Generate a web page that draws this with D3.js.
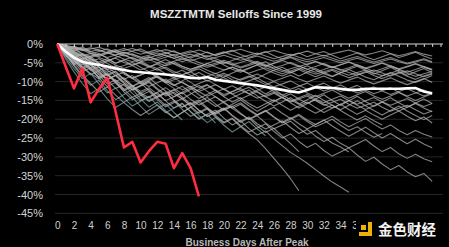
<!DOCTYPE html>
<html>
<head>
<meta charset="utf-8">
<script src="https://cdn.jsdelivr.net/npm/d3@7"></script>
<style>
  body { margin: 0; background: #000; }
  svg { display: block; }
</style>
</head>
<body>
<svg id="chart" width="449" height="247"></svg>
<script>
// % decline from peak, one value per business day (day 0 = peak)
const currentSelloff = [0, -6, -11.8, -6.5, -15.5, -12, -9, -18, -27.5, -26, -31.5, -28.5, -26, -26.5, -33, -29, -33, -40.5];

const averageSelloff = [0, -2, -3.6, -4.7, -5.2, -5.5, -6, -6.5, -6.9, -7.3, -7.5, -7.7, -7.9, -8.1, -8.3, -8.6,
  -9, -9.1, -8.8, -9.5, -9.8, -10.1, -10.4, -10.7, -11, -11.4, -11.8, -12.2, -12.6, -12.9, -12.2, -11.5,
  -11.6, -11.7, -11.9, -12.2, -12.2, -11.9, -11.9, -11.9, -11.9, -11.9, -11.8, -11.7, -12.6, -13.1];

const pastSelloffs = [
  [0,-1,-0.6,-1.4,-2,-1.5,-2.3,-2.9,-2.2,-2.8,-3.5,-3,-2.4,-3.1,-3.8,-3.2,-2.7,-3.4,-4.1,-3.6,-3,-3.7,-4.3,-3.8,-3.2,-3.9,-4.6,-4,-3.4,-4.1,-4.7,-4.2,-3.6,-4.3,-5,-4.4,-3.8,-4.5,-5.2,-4.6,-4,-4.7,-5.3,-4.8,-4.2,-4.9],
  [0,-0.4,-1.2,-1.8,-1.3,-0.9,-1.6,-2.2,-1.7,-1.2,-1.9,-2.5,-2,-1.5,-2.1,-2.7,-2.2,-1.6,-2.3,-2.9,-2.4,-1.9,-1.4,-2.1,-2.7,-2.2,-1.7,-2.4,-3,-2.5,-1.9,-2.6,-3.2,-2.6,-2.1,-1.6,-2.3,-2.9,-2.4,-1.8,-2.5,-3.1,-2.6,-2,-2.7,-3.2],
  [0,-1.5,-2.4,-3.2,-2.5,-3.6,-4.4,-3.8,-4.9,-5.6,-4.8,-4.1,-5,-5.8,-5.1,-6,-6.7,-6,-5.2,-6.1,-6.9,-6.2,-7,-7.8,-7,-6.3,-7.1,-7.9,-7.2,-6.4,-7.3,-8,-7.4,-6.7,-7.5,-8.3,-7.6,-6.9,-7.7,-8.4,-7.8,-7,-7.8,-8.6,-7.9,-7.3],
  [0,-0.8,-2,-2.9,-3.6,-3,-2.3,-3.1,-4,-4.7,-4.1,-3.5,-4.3,-5.2,-4.6,-3.9,-4.7,-5.5,-6.2,-5.5,-4.8,-5.6,-6.4,-5.7,-5,-5.8,-6.6,-7.3,-6.6,-5.9,-6.7,-7.5,-6.8,-6,-6.8,-7.6,-8.3,-7.6,-6.9,-7.7,-8.5,-7.8,-7.1,-7.9,-8.7,-8],
  [0,-2,-3.4,-2.6,-4,-5.2,-4.4,-5.6,-6.5,-5.7,-4.9,-6,-7,-6.2,-7.3,-8.2,-7.4,-6.6,-7.7,-8.6,-7.8,-8.8,-9.6,-8.8,-8,-9,-9.9,-9.1,-8.3,-9.3,-10.1,-9.3,-8.5,-9.5,-10.4,-9.6,-8.8,-9.8,-10.6,-9.8,-9,-10,-10.8,-10,-9.2,-10.2],
  [0,-0.6,-1.5,-2.5,-3.3,-2.7,-3.6,-2.9,-2.2,-3,-3.9,-3.3,-4.2,-3.5,-2.8,-3.6,-4.5,-3.8,-3.1,-3.9,-4.8,-5.5,-4.9,-4.2,-5,-5.8,-5.1,-4.4,-5.2,-6,-5.3,-4.6,-5.4,-6.2,-5.5,-4.8,-5.6,-6.4,-5.7,-5,-5.8,-6.6,-5.9,-5.2,-6,-6.7],
  [0,-1.2,-0.7,-1.6,-2.6,-2,-1.3,-2.2,-3.2,-2.6,-3.5,-4.3,-3.7,-2.9,-3.8,-4.7,-4,-4.9,-5.8,-5.1,-4.3,-5.2,-6.1,-5.4,-4.6,-5.5,-6.4,-5.7,-4.9,-5.8,-6.7,-6,-5.2,-6.1,-7,-6.3,-5.5,-6.4,-7.3,-6.6,-5.8,-6.7,-7.5,-6.8,-6,-6.9],
  [0,-2.5,-4,-5.6,-4.5,-6.2,-7.5,-6.6,-8,-9.2,-8.3,-7.4,-8.7,-9.9,-9,-10.3,-11.4,-10.5,-9.6,-10.8,-12,-11.1,-12.3,-13.2,-12.3,-11.4,-12.6,-13.6,-12.7,-11.8,-13,-14,-13.1,-12.2,-13.4,-14.4,-13.5,-12.6,-13.8,-14.7,-13.8,-12.9,-14,-15,-14.1,-13.2],
  [0,-1.8,-3.5,-5,-6.3,-5.4,-7,-8.4,-7.5,-9,-10.2,-9.3,-8.4,-9.8,-11,-10.1,-11.5,-12.6,-11.7,-10.8,-12.1,-13.3,-12.4,-11.5,-12.8,-14,-13.1,-14.3,-15.2,-14.3,-13.4,-14.6,-15.6,-14.7,-13.8,-15,-16,-15.1,-14.2,-15.4,-16.3,-15.4,-14.5,-15.7,-16.6,-15.8],
  [0,-3,-4.8,-3.7,-5.5,-7,-6,-7.8,-9.4,-8.4,-10,-11.3,-10.3,-9.3,-10.8,-12.2,-11.2,-12.7,-13.9,-12.9,-11.9,-13.3,-14.6,-13.6,-12.6,-14,-15.2,-14.2,-13.2,-14.6,-15.8,-14.8,-16,-17,-16,-15,-16.3,-17.4,-16.4,-15.4,-16.7,-17.8,-16.8,-15.8,-17,-18],
  [0,-1,-2.6,-4,-3.2,-2.5,-3.8,-5.1,-4.3,-5.7,-6.9,-6.1,-5.3,-6.6,-7.8,-7,-8.3,-9.4,-8.6,-7.8,-9,-10.1,-9.3,-8.5,-9.7,-10.8,-10,-11.1,-12,-11.2,-10.4,-11.5,-12.5,-11.7,-10.9,-12,-13,-12.2,-11.4,-12.5,-13.4,-12.6,-11.8,-12.9,-13.8,-13],
  [0,-2.2,-4.5,-6.5,-5.4,-7.6,-9.5,-8.4,-10.4,-12,-11,-9.9,-11.8,-13.4,-12.3,-11.2,-13,-14.5,-13.4,-12.3,-14,-15.4,-14.3,-15.8,-17,-15.9,-14.8,-16.3,-17.6,-16.5,-15.4,-16.9,-18.2,-17.1,-16,-17.4,-18.7,-17.6,-18.9,-20,-18.9,-17.8,-19.2,-20.4,-19.4,-21],
  [0,-1.5,-3.2,-5.2,-7,-6,-8.2,-10,-9,-11,-12.6,-11.6,-13.4,-15,-14,-12.9,-14.7,-16.2,-15.1,-14,-15.7,-17.1,-16,-17.6,-19,-17.9,-16.8,-18.4,-19.8,-18.7,-20.2,-21.4,-20.3,-19.2,-20.7,-22,-20.9,-19.8,-21.3,-22.6,-21.5,-23,-24.1,-23,-24,-24.7],
  [0,-3,-5.5,-4.4,-6.8,-9,-8,-10.4,-12.4,-11.3,-13.5,-15.3,-14.2,-13,-15,-16.8,-15.7,-17.6,-19.2,-18.1,-17,-18.9,-20.5,-19.4,-21.2,-22.6,-21.5,-20.4,-22.2,-23.8,-22.7,-24.5,-25.9,-24.8,-26.4,-27.6,-26.5,-25.4,-27.1,-28.6,-27.5,-29.2,-30.4,-29.3,-30.5,-31.3],
  [0,-2,-4.4,-6.8,-5.7,-8.3,-10.6,-9.5,-12,-14.2,-13.1,-12,-14.3,-16.3,-15.2,-17.4,-19.2,-18.1,-17,-19,-20.8,-19.7,-21.7,-23.4,-22.3,-21.2,-23.2,-25,-23.9,-25.9,-27.5,-26.4,-28.3,-29.8,-28.7,-27.6,-29.5,-31.2,-30.1,-31.9,-33.4,-32.3,-34,-35.3,-34.4,-36.5],
  [0,-2.4,-5,-7.4,-6.3,-9,-11.3,-10.2,-12.7,-14.8,-13.7,-12.6,-14.8,-16.7,-15.6,-14.5,-16.6,-18.4,-17.3,-19.4,-21,-19.9,-22,-23.8,-25.5,-27.8,-30.4,-33,-35.8,-39],
  [0,-1.6,-3.8,-6,-8.2,-7.1,-9.6,-11.8,-10.7,-13.1,-15.1,-14,-12.9,-15.1,-17,-15.9,-18,-19.8,-18.7,-17.6,-19.7,-21.5,-20.4,-22.5,-24.2,-23.1,-25.2,-27,-28.8,-30.2,-31.7,-33.4,-35.1,-36.7,-38,-39.4],
  [0,-2.8,-5.2,-4.1,-6.6,-8.8,-7.7,-10.1,-12.1,-11,-13.2,-15,-13.9,-12.8,-14.9,-16.7,-15.6,-17.6,-19.3,-18.2,-17.1,-19.1,-20.8,-19.7,-21.8,-23.5,-22.4,-24.5,-26.5,-28.6],
  [0,-1.2,-3,-5,-4,-6.2,-8.2,-7.2,-9.4,-11.3,-10.3,-12.4,-14.1,-13.1,-12.1,-14.1,-15.9,-14.9,-16.9,-18.5,-17.5,-16.5,-18.4,-20.1,-19.1,-21,-22.5,-21.5,-20.5,-22.4,-24,-23,-24.8,-26.3,-27.4,-28.7],
  [0,-3.5,-6.5,-9.2,-7.8,-10.6,-13,-11.7,-14.3,-16.5,-15.2,-13.9,-16.3,-18.3,-17,-15.7,-18,-20,-18.7,-21],
  [0,-2.6,-5.8,-8.6,-11,-9.6,-12.4,-14.8,-13.4,-12,-14.6,-16.8,-15.4,-17.7,-19.6,-18.2,-16.8,-19,-20.9,-19.5,-21.6,-23.4,-22,-20.6,-22.6,-24.4],
  [0,-4,-7.4,-10.5,-13.2,-11.8,-14.6,-16.9,-15.5,-14.1,-16.6,-18.7,-17.3,-15.9,-18.2,-20.2],
  [0,-1.8,-4,-6.2,-5.2,-7.4,-9.4,-8.4,-10.4,-12.2,-11.2,-10.2,-12.1,-13.8,-12.8,-14.6,-16.2,-15.2,-14.2,-16,-17.6,-16.6,-15.6,-17.3,-18.8,-17.8,-19.5,-21,-20,-19,-20.6,-22,-21,-20,-21.6,-23,-22,-23.5,-24.8,-23.8],
  [0,-1.4,-2.9,-4.5,-3.7,-5.3,-6.8,-6,-7.6,-9,-8.2,-7.4,-8.9,-10.3,-9.5,-8.7,-10.2,-11.6,-10.8,-12.2,-13.4,-12.6,-11.8,-13.2,-14.4,-13.6,-12.8,-14.2,-15.4,-14.6,-13.8,-15.1,-16.3,-15.5,-14.7,-16,-17.1,-16.3,-15.5,-16.8,-17.9,-17.1,-16.3,-17.5,-18.6,-17.8],
  [0,-0.9,-2,-3.4,-4.6,-3.9,-5.2,-6.4,-5.7,-4.9,-6.2,-7.4,-6.6,-7.9,-9,-8.2,-7.4,-8.7,-9.8,-9,-8.2,-9.5,-10.6,-9.8,-9,-10.3,-11.4,-10.6,-9.8,-11,-12,-11.2,-10.4,-11.6,-12.6,-11.8,-11,-12.2,-13.2,-12.4,-11.6,-12.8,-13.8,-13,-12.2,-13.4],
  [0,-0.3,-0.9,-1.5,-1,-1.7,-2.4,-1.8,-1.2,-2,-2.7,-2.1,-1.5,-2.3,-3,-2.4,-1.8,-2.6,-3.3,-2.7,-2.1,-2.9,-3.6,-3,-2.4,-3.2,-3.9,-3.3,-2.7,-3.5,-4.2,-3.6,-3,-3.8,-4.5,-3.9,-3.3,-4.1,-4.8,-4.2,-3.6,-4.4,-5.1,-4.5,-3.9,-4.7],
  [0,-0.7,-1.8,-1.1,-2.4,-3.3,-2.5,-1.9,-3,-3.8,-4.5,-3.7,-2.9,-2.2,-3.2,-4.1,-3.3,-2.6,-3.7,-4.6,-5.2,-4.4,-3.6,-4.5,-5.4,-6,-5.1,-4.3,-3.6,-4.6,-5.5,-4.7,-5.6,-6.3,-5.5,-4.8,-5.8,-6.6,-5.9,-5.1,-6,-6.8,-6.1,-5.3,-6.2,-6.9],
  [0,-1.6,-1,-2.7,-3.9,-4.8,-3.9,-5.1,-4.2,-3.5,-4.6,-5.7,-6.5,-5.6,-4.7,-5.9,-6.8,-5.9,-7,-7.9,-7,-6.1,-7.2,-6.4,-5.6,-6.8,-7.7,-8.5,-7.6,-6.8,-7.8,-8.7,-7.8,-7,-8.1,-9,-8.2,-7.3,-8.4,-9.2,-8.3,-7.5,-8.6,-9.4,-8.5,-7.8],
  [0,-0.5,-2.2,-3.5,-4.7,-5.8,-4.6,-3.6,-2.8,-4,-5.2,-6.1,-5.1,-4.1,-5.3,-6.4,-7.2,-6.2,-5.2,-4.4,-5.6,-6.7,-7.5,-6.5,-5.5,-4.7,-5.9,-6.9,-7.7,-6.7,-5.8,-6.9,-7.9,-8.7,-7.7,-6.8,-7.8,-8.8,-9.5,-8.5,-7.6,-8.6,-9.6,-10.2,-9.3,-8.4],
  [0,-2.2,-4.3,-6.1,-7.8,-9.3,-8.1,-9.7,-11,-12.2,-11,-9.8,-8.7,-9.9,-11,-9.8,-8.6,-7.6,-8.8,-9.9,-8.8,-7.7,-6.8,-8,-9.1,-8,-7,-6.2,-7.4,-8.5,-7.5,-6.5,-7.6,-8.6,-7.6,-6.7,-5.9,-7,-8,-7.1,-6.2,-7.3,-8.3,-7.4,-6.5,-7.6],
  [0,-2.8,-5.6,-8.2,-10.5,-12.8,-11.4,-13.6,-15.6,-17.4,-19,-17.6,-16.2,-18,-19.6,-18.2,-16.8,-15.5,-17.2,-18.7,-17.3,-16,-14.8,-16.4,-17.9,-16.6,-15.3,-14.1,-15.6,-17,-15.8,-14.6,-13.5,-15,-16.3,-15.1,-13.9,-15.3,-16.6,-15.4,-14.3,-15.6,-16.8,-15.7,-14.6,-15.8],
  [0,-1.1,-2.9,-4.7,-6.4,-8,-9.5,-8.2,-10,-11.6,-13,-14.3,-12.9,-11.6,-13.2,-14.6,-13.3,-12.1,-10.9,-12.5,-13.9,-12.7,-11.5,-10.4,-11.9,-13.3,-12.1,-13.5,-14.8,-16,-14.8,-13.6,-15,-16.3,-17.5,-16.3,-15.1,-16.4,-17.7,-18.9,-17.7,-16.5,-17.8,-19,-20.1,-19],
  [0,-1.9,-3.6,-2.8,-4.9,-6.8,-8.5,-7.4,-9.4,-11.2,-10,-8.9,-10.8,-12.5,-14,-12.8,-11.7,-13.5,-15.1,-16.6,-15.4,-17.1,-18.6,-20,-18.8,-17.6,-19.3,-20.8,-19.6,-21.2,-22.6,-21.4,-20.2,-21.8,-23.2,-24.5,-23.3,-22.1,-23.6,-25,-23.8,-25.2,-26.5,-25.3,-26.6,-27.6],
  [0,-0.9,-2.4,-4.1,-3.3,-5.1,-6.7,-5.8,-7.6,-9.2,-10.6,-9.6,-8.6,-10.3,-11.8,-13.2,-12.1,-11,-12.6,-14.1,-15.4,-14.3,-13.2,-12.2,-13.8,-15.2,-16.5,-15.4,-14.3,-15.8,-17.2,-18.4,-17.3,-16.2,-17.7,-19,-20.2,-19.1,-20.4,-21.5],
  [0,-0.4,-1.4,-0.8,-2,-2.9,-2.1,-1.5,-2.6,-1.9,-1.3,-2.3,-3.2,-2.5,-1.8,-2.9,-3.7,-2.9,-2.1,-3.1,-2.3,-1.7,-2.8,-3.6,-2.8,-2,-3.1,-3.9,-3.1,-2.4,-3.4,-2.6,-2,-3,-3.9,-3.1,-2.4,-3.4,-4.2,-3.4,-2.6,-3.6,-2.9,-2.2,-3.2,-4]
];

const yTicks = [0, -5, -10, -15, -20, -25, -30, -35, -40, -45];
const xLabelTicks = [0, 2, 4, 6, 8, 10, 12, 14, 16, 18, 20, 22, 24, 26, 28, 30, 32, 34, 36];
const xDayTicks = d3.range(0, 47);

const svg = d3.select('#chart');

const xScale = d3.scaleLinear()
                 .domain([0, 46])
                 .range([57.3, 440.5]);

const yScale = d3.scaleLinear()
                 .domain([-45, 0])
                 .range([213.3, 44]);

svg.append('rect')
   .attr('width', 449)
   .attr('height', 247)
   .attr('fill', '#000');

// title
svg.append('text')
   .attr('x', 236)
   .attr('y', 18)
   .attr('text-anchor', 'middle')
   .attr('font-family', 'Liberation Sans, Arial, sans-serif')
   .attr('font-weight', 'bold')
   .attr('font-size', 11.5)
   .attr('fill', '#e8e8e8')
   .text('MSZZTMTM Selloffs Since 1999');

// horizontal gridlines
svg.append('g')
   .selectAll('line')
   .data(yTicks.slice(1))
   .join('line')
   .attr('x1', 55)
   .attr('x2', 443)
   .attr('y1', d => yScale(d))
   .attr('y2', d => yScale(d))
   .attr('stroke', '#262626')
   .attr('stroke-width', 1);

// y axis labels
const yAxis = d3.axisLeft(yScale)
                .tickValues(yTicks)
                .tickSize(0)
                .tickPadding(0)
                .tickFormat(d => d + '%');

svg.append('g')
   .attr('transform', 'translate(43,0)')
   .call(yAxis)
   .call(g => g.select('.domain').remove())
   .call(g => g.selectAll('text')
               .attr('font-family', 'Liberation Sans, Arial, sans-serif')
               .attr('font-size', 11)
               .attr('fill', '#d4d4d4'));

// past selloffs
const line = d3.line()
               .x((d, i) => xScale(i))
               .y(d => yScale(d));

svg.append('g')
   .selectAll('path')
   .data(pastSelloffs)
   .join('path')
   .attr('d', line)
   .attr('fill', 'none')
   .attr('stroke', (d, i) => (i >= 19 && i <= 21) ? '#86abab' : '#b4b4b4')
   .attr('stroke-opacity', 0.72)
   .attr('stroke-width', 1.1)
   .attr('stroke-linejoin', 'round');

// day ticks along 0% line
const topAxis = d3.axisBottom(xScale)
                  .tickValues(xDayTicks)
                  .tickSize(3)
                  .tickSizeOuter(0)
                  .tickFormat('');

svg.append('g')
   .attr('transform', `translate(0,${yScale(0)})`)
   .call(topAxis)
   .call(g => g.select('.domain').attr('stroke', '#d8d8d8').attr('d', `M${xScale(0)},0H443`))
   .call(g => g.selectAll('.tick line').attr('stroke', '#d8d8d8'));

// average line
svg.append('path')
   .datum(averageSelloff)
   .attr('d', line)
   .attr('fill', 'none')
   .attr('stroke', '#ffffff')
   .attr('stroke-width', 2.6);

// current selloff
svg.append('path')
   .datum(currentSelloff)
   .attr('d', line)
   .attr('fill', 'none')
   .attr('stroke', '#ff2d3f')
   .attr('stroke-width', 2.6)
   .attr('stroke-linejoin', 'round');

// x axis labels
const xAxis = d3.axisBottom(xScale)
                .tickValues(xLabelTicks)
                .tickSize(0)
                .tickPadding(0);

svg.append('g')
   .attr('transform', 'translate(0,222)')
   .call(xAxis)
   .call(g => g.select('.domain').remove())
   .call(g => g.selectAll('text')
               .attr('font-family', 'Liberation Sans, Arial, sans-serif')
               .attr('font-size', 10)
               .attr('fill', '#d0d0d0'));

svg.append('text')
   .attr('x', 247)
   .attr('y', 246)
   .attr('text-anchor', 'middle')
   .attr('font-family', 'Liberation Sans, Arial, sans-serif')
   .attr('font-weight', 'bold')
   .attr('font-size', 10)
   .attr('fill', '#b8b8b8')
   .text('Business Days After Peak');

// watermark
const wm = svg.append('g').attr('transform', 'translate(358,222)');
wm.append('rect')
  .attr('x', -2).attr('y', -1).attr('width', 86).attr('height', 17)
  .attr('fill', '#000');
wm.append('path')
  .attr('d', 'M10,0H14V14H1V10H10Z')
  .attr('fill', '#e9b10a');
wm.append('rect')
  .attr('x', 3).attr('y', 3).attr('width', 5).attr('height', 5)
  .attr('fill', '#e9b10a');
wm.append('text')
  .attr('x', 20)
  .attr('y', 13)
  .attr('font-family', 'Noto Sans CJK SC, sans-serif')
  .attr('font-size', 14.5)
  .attr('font-weight', 'bold')
  .attr('fill', '#f4f4f4')
  .text('金色财经');
</script>
</body>
</html>
